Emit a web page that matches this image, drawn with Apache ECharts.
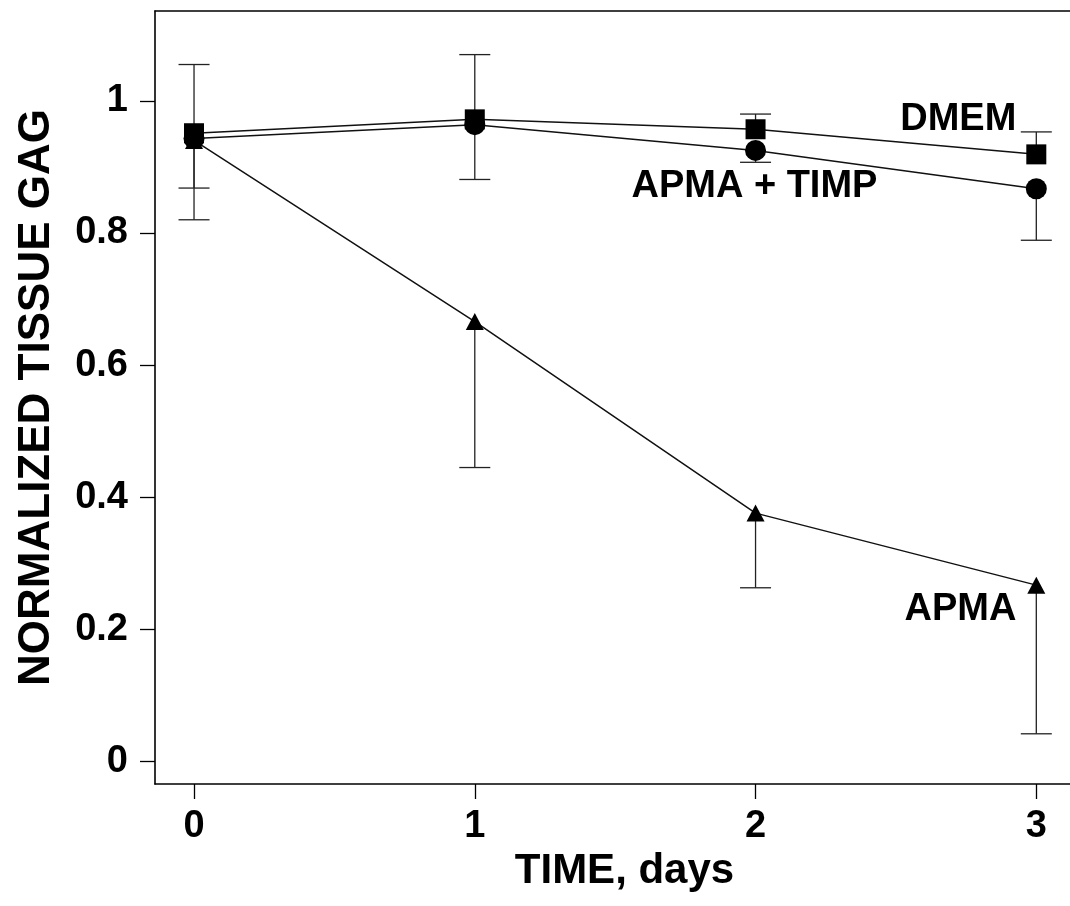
<!DOCTYPE html>
<html>
<head>
<meta charset="utf-8">
<script src="https://cdn.jsdelivr.net/npm/echarts@6/dist/echarts.min.js"></script>
<style>
html,body{margin:0;padding:0;background:#fff;}
#chart{width:1070px;height:906px;}
</style>
</head>
<body>
<div id="chart"></div>
<script>
// ---- data ----
const days = [0, 1, 2, 3];
const dmem = [0.951, 0.972, 0.957, 0.919];
const apmaTimp = [0.943, 0.964, 0.925, 0.867];
const apma = [0.940, 0.666, 0.376, 0.267];
// error bar ends (drawn from point to this end)
const dmemHigh = [1.055, 1.070, 0.980, 0.953];
const apmaTimpLow = [0.820, 0.881, 0.907, 0.789];
const apmaLow = [0.868, 0.445, 0.263, 0.042];
const yTicks = [0, 0.2, 0.4, 0.6, 0.8, 1];
const xTicks = [0, 1, 2, 3];
const labelTexts = ['DMEM', 'APMA + TIMP', 'APMA'];
const labelX = [2.929, 2.434, 2.929];
const labelY = [0.972, 0.871, 0.230];

const FONT = '"Liberation Sans", Arial, Helvetica, sans-serif';

function pairs(xs, ys) { return xs.map((x, i) => [x, ys[i]]); }
function errData(xs, from, to) { return xs.map((x, i) => [x, from[i], to[i]]); }

function errRender(params, api) {
  const x = api.value(0);
  const p0 = api.coord([x, api.value(1)]);
  const p1 = api.coord([x, api.value(2)]);
  const half = 15.5;
  const style = { stroke: '#222', lineWidth: 1.3, fill: null };
  return {
    type: 'group',
    children: [
      { type: 'line', shape: { x1: p0[0], y1: p0[1], x2: p1[0], y2: p1[1] }, style: style },
      { type: 'line', shape: { x1: p1[0] - half, y1: p1[1], x2: p1[0] + half, y2: p1[1] }, style: style }
    ]
  };
}

const chart = echarts.init(document.getElementById('chart'), null, { renderer: 'canvas' });

const lineCommon = {
  type: 'line',
  xAxisIndex: 0,
  yAxisIndex: 0,
  lineStyle: { color: '#111', width: 1.5 },
  itemStyle: { color: '#000', opacity: 1 },
  animation: false,
  z: 5
};

chart.setOption({
  backgroundColor: '#fff',
  animation: false,
  grid: { left: 155, top: 11, right: 0, bottom: 122, containLabel: false },
  xAxis: [{
    type: 'value',
    min: -0.139,
    max: 3.12,
    name: 'TIME, days',
    nameLocation: 'middle',
    nameGap: 60,
    nameTextStyle: { fontFamily: FONT, fontWeight: 'bold', fontSize: 42, color: '#000', padding: [0, 0, 0, 24] },
    axisLine: { show: true, onZero: false, lineStyle: { color: '#000', width: 1.6 } },
    axisTick: { show: true, length: 15, inside: false, customValues: xTicks, lineStyle: { color: '#000', width: 1.3 } },
    axisLabel: { show: true, customValues: xTicks, margin: 24, fontFamily: FONT, fontWeight: 'bold', fontSize: 38, color: '#000' },
    splitLine: { show: false }
  }, {
    type: 'value',
    position: 'top',
    min: -0.139,
    max: 3.12,
    axisLine: { show: true, onZero: false, lineStyle: { color: '#000', width: 1.6 } },
    axisTick: { show: false },
    axisLabel: { show: false },
    splitLine: { show: false }
  }],
  yAxis: [{
    type: 'value',
    min: -0.034,
    max: 1.136,
    name: 'NORMALIZED TISSUE GAG',
    nameLocation: 'middle',
    nameGap: 96,
    nameTextStyle: { fontFamily: FONT, fontWeight: 'bold', fontSize: 44, color: '#000' },
    axisLine: { show: true, onZero: false, lineStyle: { color: '#000', width: 1.6 } },
    axisTick: { show: true, length: 15, inside: false, customValues: yTicks, lineStyle: { color: '#000', width: 1.3 } },
    axisLabel: { show: true, customValues: yTicks, margin: 27, fontFamily: FONT, fontWeight: 'bold', fontSize: 38, color: '#000',
      formatter: v => String(Math.round(v * 10) / 10) },
    splitLine: { show: false }
  }],
  series: [
    { type: 'custom', renderItem: errRender, data: errData(days, dmem, dmemHigh), encode: { x: 0, y: [1, 2] }, z: 2, silent: true },
    { type: 'custom', renderItem: errRender, data: errData(days, apmaTimp, apmaTimpLow), encode: { x: 0, y: [1, 2] }, z: 2, silent: true },
    { type: 'custom', renderItem: errRender, data: errData(days, apma, apmaLow), encode: { x: 0, y: [1, 2] }, z: 2, silent: true },
    Object.assign({}, lineCommon, { name: 'APMA', data: pairs(days, apma), symbol: 'triangle', symbolSize: [18, 17], z: 4 }),
    Object.assign({}, lineCommon, { name: 'APMA + TIMP', data: pairs(days, apmaTimp), symbol: 'circle', symbolSize: 21, z: 5 }),
    Object.assign({}, lineCommon, { name: 'DMEM', data: pairs(days, dmem), symbol: 'rect', symbolSize: 20, z: 6 }),
    {
      type: 'scatter',
      data: labelTexts.map((t, i) => [labelX[i], labelY[i], t]),
      symbolSize: 0,
      silent: true,
      z: 10,
      itemStyle: { opacity: 1, color: '#000' },
      label: {
        show: true,
        position: [0, 0],
        align: 'right',
        verticalAlign: 'middle',
        formatter: p => p.value[2],
        fontFamily: FONT,
        fontWeight: 'bold',
        fontSize: 38,
        color: '#000',
        opacity: 1
      }
    }
  ]
});
</script>
</body>
</html>
